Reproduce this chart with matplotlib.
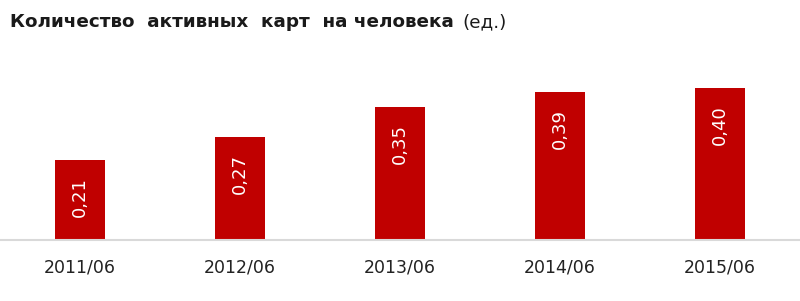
import numpy as np
import matplotlib
matplotlib.use("Agg")
import matplotlib.pyplot as plt

# data
periods = ["2011/06", "2012/06", "2013/06", "2014/06", "2015/06"]
cards_per_person = [0.21, 0.27, 0.35, 0.39, 0.40]
value_labels = ["0,21", "0,27", "0,35", "0,39", "0,40"]

fig = plt.figure(figsize=(8.0, 3.01), dpi=100)
ax = fig.add_axes([0.0, 61 / 301, 1.0, 180 / 301])

x = np.arange(len(periods))
bars = ax.bar(x, cards_per_person, width=0.31, color="#C00000", zorder=2)

for b, lab in zip(bars, value_labels):
    ax.annotate(lab, (b.get_x() + b.get_width() / 2, b.get_height()),
                xytext=(0, -12), textcoords="offset points",
                rotation=90, ha="center", va="top", color="white",
                fontsize=13)

ax.set_xlim(-0.5, len(periods) - 0.5)
ax.set_ylim(0, 0.474)
ax.set_xticks(x)
ax.set_xticklabels(periods, fontsize=12.5, color="#222222")
ax.tick_params(axis="x", length=0, pad=13)
ax.set_yticks([])
for s in ["top", "right", "left"]:
    ax.spines[s].set_visible(False)
ax.spines["bottom"].set_color("#d9d9d9")
ax.spines["bottom"].set_linewidth(1.5)

fig.text(10 / 800, 1 - 22 / 301, "Количество  активных  карт  на человека",
         fontsize=13.2, fontweight="bold", va="center", ha="left", color="#1a1a1a")
fig.text(462 / 800, 1 - 22 / 301, "(ед.)", fontsize=13.2, va="center", ha="left",
         color="#1a1a1a")

fig.savefig("out.png", dpi=100)
